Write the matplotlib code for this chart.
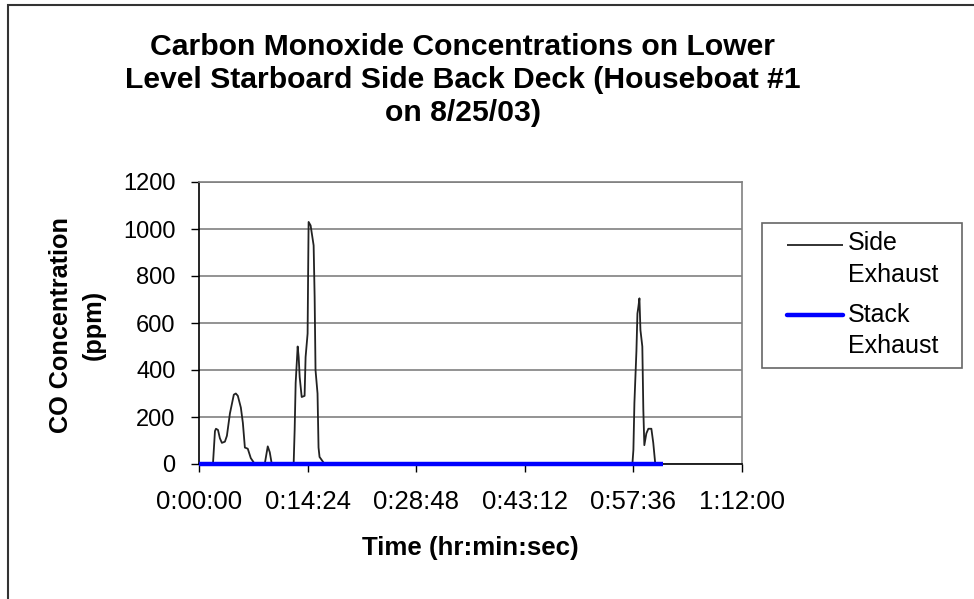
import matplotlib
matplotlib.use("Agg")
import matplotlib.pyplot as plt
from matplotlib.patches import Rectangle
from matplotlib.lines import Line2D

plt.rcParams['font.family'] = ['Liberation Sans', 'DejaVu Sans']

# ---- data (time in seconds, CO in ppm) ----
side_times = [0, 111, 127, 135, 151, 166, 182, 206, 222, 246, 277, 293, 309, 333, 349, 365,
              388, 412, 444, 523, 547, 563, 579, 753, 761, 769, 785, 793, 801, 817, 840, 848,
              864, 868, 872, 888, 912, 920, 927, 943, 951, 959, 999, 3448, 3456, 3464, 3480,
              3488, 3496, 3504, 3512, 3527, 3535, 3543, 3559, 3575, 3599, 3614, 3630, 4312]
side_values = [0, 0, 140, 150, 145, 110, 90, 95, 120, 215, 295, 300, 290, 240, 175, 70,
               65, 25, 0, 0, 75, 50, 0, 0, 145, 345, 500, 455, 370, 285, 290, 455,
               555, 800, 1030, 1015, 930, 710, 400, 300, 70, 30, 0, 0, 60, 260, 480,
               640, 670, 705, 570, 500, 230, 80, 130, 150, 150, 90, 0, 0]
stack_times = [0, 3694]
stack_values = [0, 0]

x_ticks = [0, 864, 1728, 2592, 3456, 4320]
x_tick_labels = ['0:00:00', '0:14:24', '0:28:48', '0:43:12', '0:57:36', '1:12:00']
y_ticks = [0, 200, 400, 600, 800, 1000, 1200]

series_labels = [('Side', 'Exhaust'), ('Stack', 'Exhaust')]
title = 'Carbon Monoxide Concentrations on Lower\nLevel Starboard Side Back Deck (Houseboat #1\non 8/25/03)'

W, H = 974, 599
fig = plt.figure(figsize=(W / 100, H / 100), dpi=100)


def fx(px):
    return px / W


def fy(py):
    return 1 - py / H


# outer chart frame
fig.patches.append(Rectangle((fx(8), -0.1), 1.2, fy(5) + 0.1, transform=fig.transFigure,
                             fill=False, edgecolor='#333333', linewidth=1.5))

ax_l, ax_r, ax_t, ax_b = 199, 742, 182, 464
ax = fig.add_axes([fx(ax_l), fy(ax_b), (ax_r - ax_l) / W, (ax_b - ax_t) / H])

l1, = ax.plot(side_times, side_values, color='#222222', linewidth=1.3, zorder=3)
l2, = ax.plot(stack_times, stack_values, color='#0000FF', linewidth=3.2, zorder=4,
              solid_capstyle='butt', clip_on=False)

ax.set_xlim(0, 4320)
ax.set_ylim(0, 1200)
ax.set_xticks(x_ticks)
ax.set_xticklabels(x_tick_labels)
ax.set_yticks(y_ticks)
ax.yaxis.grid(True, color='#808080', linewidth=1.2)
ax.set_axisbelow(True)
ax.tick_params(axis='both', direction='out', length=6, width=1, colors='black')
ax.tick_params(axis='y', labelsize=17, pad=11)
ax.tick_params(axis='x', labelsize=18.5, pad=13)
for s in ['top', 'right']:
    ax.spines[s].set_color('#808080')
    ax.spines[s].set_linewidth(1.2)
for s in ['left', 'bottom']:
    ax.spines[s].set_color('black')
    ax.spines[s].set_linewidth(1.2)

fig.text(fx(463), fy(80), title, ha='center', va='center', fontsize=21.7,
         fontweight='bold', linespacing=1.24)
fig.text(fx(470), fy(548), 'Time (hr:min:sec)', ha='center', va='center',
         fontsize=18.6, fontweight='bold')
fig.text(fx(77.5), fy(325), 'CO Concentration\n(ppm)', ha='center', va='center',
         rotation=90, fontsize=18.2, fontweight='bold', linespacing=1.45)

# legend (drawn in figure pixels to match the two-line label layout)
fig.patches.append(Rectangle((fx(762), fy(368)), (962 - 762) / W, (368 - 223) / H,
                             transform=fig.transFigure, fill=False,
                             edgecolor='#666666', linewidth=1.2))
handle_y = [245, 315]
text_base = [(250, 282), (322, 353)]
for line, hy, (b1, b2), (t1, t2) in zip([l1, l2], handle_y, text_base, series_labels):
    fig.add_artist(Line2D([fx(787), fx(843)], [fy(hy), fy(hy)], transform=fig.transFigure,
                          color=line.get_color(), linewidth=line.get_linewidth(),
                          solid_capstyle='round' if line is l2 else 'butt'))
    fig.text(fx(848), fy(b1), t1, ha='left', va='baseline', fontsize=18)
    fig.text(fx(848), fy(b2), t2, ha='left', va='baseline', fontsize=18)

fig.savefig('out.png', dpi=100)
